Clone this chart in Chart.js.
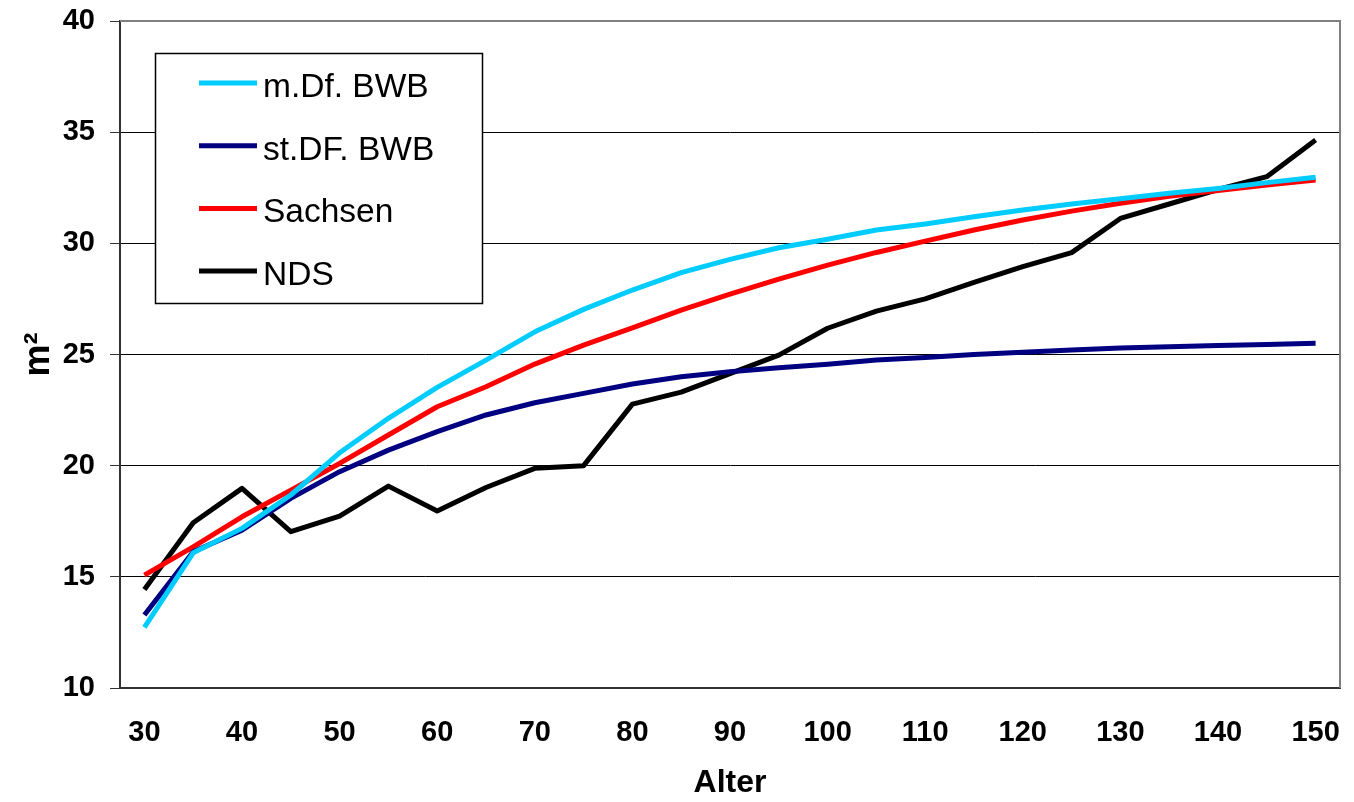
<!DOCTYPE html>
<html lang="de">
<head>
<meta charset="utf-8">
<title>Grundfläche nach Alter</title>
<script src="https://cdn.jsdelivr.net/npm/chart.js@4.4.0/dist/chart.umd.min.js"></script>
<style>
    html, body { margin: 0; padding: 0; background: #fff; }
    #wrap { width: 1354px; height: 802px; }
</style>
</head>
<body>
<div id="wrap"><canvas id="chart" width="1354" height="802"></canvas></div>
<script>
// Alter (Kategorien, alle 5 Jahre)
const ages = ['30', '35', '40', '45', '50', '55', '60', '65', '70', '75', '80', '85', '90',
              '95', '100', '105', '110', '115', '120', '125', '130', '135', '140', '145', '150'];

// Werte in m² je Reihe
const mDfBwb = [12.73, 16.08, 17.18, 18.68, 20.58, 22.13, 23.52, 24.75, 26.02, 27.03, 27.9, 28.68, 29.28,
                29.8, 30.18, 30.6, 30.87, 31.2, 31.5, 31.77, 32.01, 32.25, 32.47, 32.73, 32.97];
const stDfBwb = [13.28, 16.13, 17.1, 18.53, 19.73, 20.7, 21.53, 22.28, 22.83, 23.25, 23.67, 24.0, 24.22,
                 24.4, 24.56, 24.75, 24.87, 25.0, 25.1, 25.2, 25.29, 25.35, 25.41, 25.45, 25.51];
const sachsen = [15.08, 16.35, 17.7, 18.9, 20.1, 21.38, 22.65, 23.55, 24.57, 25.42, 26.2, 27.0, 27.72,
                 28.39, 29.02, 29.59, 30.1, 30.6, 31.05, 31.45, 31.8, 32.12, 32.38, 32.62, 32.85];
const nds = [14.43, 17.43, 18.98, 17.03, 17.73, 19.08, 17.96, 19.02, 19.88, 20.0, 22.77, 23.31, 24.14,
             24.97, 26.18, 26.95, 27.5, 28.24, 28.95, 29.58, 31.12, 31.77, 32.42, 33.0, 34.65];

// nur jede zweite Kategorie beschriften (30, 40, ... 150)
const labelEvery = 2;

const FONT = 'Arial, "Liberation Sans", sans-serif';

// grauer Rahmen oben und rechts um die Zeichenfläche
const plotFrame = {
    id: 'plotFrame',
    beforeDatasetsDraw(chart) {
        const { ctx, chartArea: a } = chart;
        ctx.save();
        ctx.strokeStyle = '#808080';
        ctx.lineWidth = 2;
        ctx.beginPath();
        ctx.moveTo(a.left, a.top);
        ctx.lineTo(a.right, a.top);
        ctx.lineTo(a.right, a.bottom);
        ctx.stroke();
        ctx.restore();
    }
};

// Legende als Kasten oben links im Diagramm
const boxLegend = {
    id: 'boxLegend',
    afterDatasetsDraw(chart) {
        const ctx = chart.ctx;
        const box = { x: 155, y: 53, w: 327, h: 250 };
        ctx.save();
        ctx.fillStyle = '#fff';
        ctx.fillRect(box.x, box.y, box.w, box.h);
        ctx.strokeStyle = '#000';
        ctx.lineWidth = 1.5;
        ctx.strokeRect(box.x + 0.5, box.y + 0.5, box.w, box.h);

        ctx.font = '33.5px ' + FONT;
        ctx.textBaseline = 'alphabetic';
        ctx.textAlign = 'left';
        chart.data.datasets.forEach((ds, i) => {
            const y = 83 + i * 62.7;
            ctx.strokeStyle = ds.borderColor;
            ctx.lineWidth = 5;
            ctx.beginPath();
            ctx.moveTo(199, y);
            ctx.lineTo(257, y);
            ctx.stroke();
            ctx.fillStyle = '#000';
            ctx.fillText(ds.label, 263, y + 14);
        });
        ctx.restore();
    }
};

// Achsen sollen keinen Extra-Rand für überstehende Beschriftungen verlangen
function noLabelPadding(scale) {
    scale.paddingTop = 0;
    scale.paddingBottom = 0;
    scale.paddingLeft = 0;
    scale.paddingRight = 0;
}

const ctx = document.getElementById('chart').getContext('2d');
const chart = new Chart(ctx, {
    type: 'line',
    data: {
        labels: ages,
        datasets: [
            { label: 'm.Df. BWB', data: mDfBwb, borderColor: '#00CCFF' },
            { label: 'st.DF. BWB', data: stDfBwb, borderColor: '#000080' },
            { label: 'Sachsen', data: sachsen, borderColor: '#FF0000' },
            { label: 'NDS', data: nds, borderColor: '#000000' }
        ]
    },
    options: {
        responsive: false,
        animation: false,
        layout: { padding: { top: 21, right: 14, left: 0, bottom: 0 } },
        elements: {
            point: { radius: 0, hoverRadius: 0 },
            line: { borderWidth: 5, tension: 0, fill: false, borderJoinStyle: 'round' }
        },
        plugins: {
            legend: { display: false },
            tooltip: { enabled: false }
        },
        scales: {
            x: {
                offset: true,
                grid: { display: false, drawTicks: false },
                border: { display: true, color: '#333', width: 2 },
                ticks: {
                    autoSkip: false,
                    maxRotation: 0,
                    padding: 28,
                    color: '#000',
                    font: { family: FONT, size: 29, weight: 'bold' },
                    callback: (v, i) => (i % labelEvery === 0 ? ages[i] : '')
                },
                title: {
                    display: true,
                    text: 'Alter',
                    color: '#000',
                    font: { family: FONT, size: 32, weight: 'bold' },
                    padding: { top: 0, bottom: 0 }
                },
                afterFit(scale) {
                    scale.height = 114;
                    noLabelPadding(scale);
                }
            },
            y: {
                min: 10,
                max: 40,
                grid: { color: '#000', lineWidth: 1, tickLength: 10, tickColor: '#333' },
                border: { display: true, color: '#333', width: 2 },
                ticks: {
                    stepSize: 5,
                    padding: 15,
                    color: '#000',
                    font: { family: FONT, size: 29, weight: 'bold' }
                },
                title: {
                    display: true,
                    text: 'm²',
                    color: '#000',
                    font: { family: FONT, size: 36, weight: 'bold' },
                    padding: { top: 17, bottom: 0 }
                },
                afterFit(scale) {
                    scale.width = 120;
                    noLabelPadding(scale);
                }
            }
        }
    },
    plugins: [plotFrame, boxLegend]
});
</script>
</body>
</html>
